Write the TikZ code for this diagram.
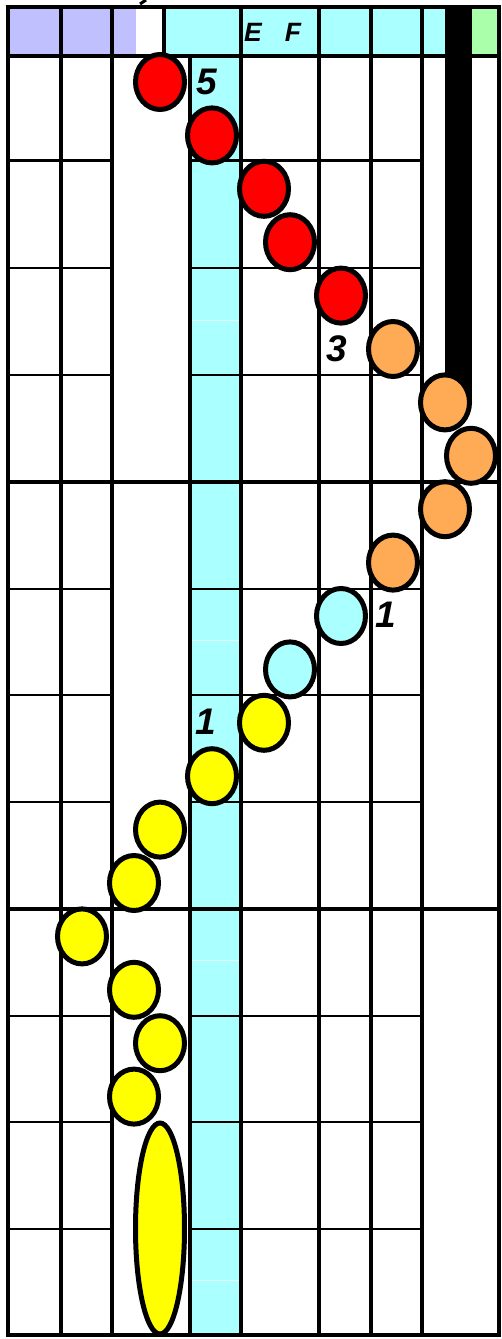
\documentclass[tikz,border=0pt]{standalone}
\usepackage{fontspec}
\setmainfont{Liberation Sans}
\usetikzlibrary{shapes.geometric}
\definecolor{lav}{HTML}{C0C0FF}
\definecolor{cyn}{HTML}{AAFFFF}
\definecolor{grn}{HTML}{AAFFAA}
\definecolor{org}{HTML}{FFAA55}
\definecolor{redd}{HTML}{FF0000}
\definecolor{yel}{HTML}{FFFF00}
\begin{document}
\begin{tikzpicture}[x=1pt,y=-1pt,
  dot/.style={ellipse,draw=black,line width=5pt,minimum width=49pt,minimum height=55pt,inner sep=0pt},
  vline/.style={line width=4pt},
  hthin/.style={line width=2.5pt},
  hthick/.style={line width=4.5pt},
  tick/.style={white,opacity=0.7,line width=1pt},
  lbl/.style={inner sep=0pt,font=\fontsize{37}{40}\selectfont\bfseries\itshape},
  hdr/.style={inner sep=0pt,font=\fontsize{26.5}{30}\selectfont\bfseries\itshape}]
\useasboundingbox (0,0) rectangle (501,1339);
\fill[white] (0,0) rectangle (501,1339);
% fills
\fill[cyn] (190,56) rectangle (240,1335);
\fill[lav] (7,7) rectangle (136,56);
\fill[cyn] (164,7) rectangle (447,56);
\fill[grn] (471,7) rectangle (499,56);
% thin row lines
\foreach \y in {160.5,268,375,589,695,802,1016,1122,1229}{
  \draw[hthin] (7.5,\y) -- (112,\y);
  \draw[hthin] (190,\y) -- (421.5,\y);
}
% light ticks in cyan column
\foreach \y in {320,640,960,1280}{
  \draw[tick] (187,\y) -- (242,\y);
}
% vertical lines
\foreach \x in {7.5,60.5,112,240.5,318.5,370.5,421.5,499}{
  \draw[vline] (\x,5) -- (\x,1337);
}
\draw[vline] (164,5) -- (164,56);
\draw[vline] (190,56) -- (190,1337);
% horizontal borders
\draw[hthick] (5.5,7) -- (501,7);
\draw[hthick] (5.5,56) -- (501,56);
\draw[hthick] (5.5,482) -- (501,482);
\draw[hthick] (5.5,909) -- (501,909);
\draw[hthick] (5.5,1335) -- (501,1335);
% black bar
\fill[black] (445,5) rectangle (472,400);
% fragment at top
\draw[line width=3pt] (146,0) -- (140,4);
% header labels
\node[hdr] (hE) at (253,32.5) {E};
\node[hdr] (hF) at (293,32.5) {F};
% notes
\node[dot,fill=redd] (n1) at (160,82) {};
\node[dot,fill=redd] (n2) at (212,135.4) {};
\node[dot,fill=redd] (n3) at (264,188.8) {};
\node[dot,fill=redd] (n4) at (290,242.2) {};
\node[dot,fill=redd] (n5) at (341,295.6) {};
\node[dot,fill=org] (n6) at (393,349) {};
\node[dot,fill=org] (n7) at (445,402.4) {};
\node[dot,fill=org] (n8) at (471,455.8) {};
\node[dot,fill=org] (n9) at (445,509.2) {};
\node[dot,fill=org] (n10) at (393,562.6) {};
\node[dot,fill=cyn] (n11) at (341,616) {};
\node[dot,fill=cyn] (n12) at (290,669.4) {};
\node[dot,fill=yel] (n13) at (264,722.8) {};
\node[dot,fill=yel] (n14) at (212,776.2) {};
\node[dot,fill=yel] (n15) at (160,829.6) {};
\node[dot,fill=yel] (n16) at (134,883) {};
\node[dot,fill=yel] (n17) at (82,936.4) {};
\node[dot,fill=yel] (n18) at (134,989.8) {};
\node[dot,fill=yel] (n19) at (160,1043.2) {};
\node[dot,fill=yel] (n20) at (134,1096.6) {};
\node[dot,fill=yel,minimum height=211pt] (n21) at (160,1228.5) {};
% numbers
\node[lbl] (l5) at (207,81.5) {5};
\node[lbl] (l3) at (337,348.5) {3};
\node[lbl] (l1a) at (386,615) {1};
\node[lbl] (l1b) at (206,722) {1};
\end{tikzpicture}
\end{document}
